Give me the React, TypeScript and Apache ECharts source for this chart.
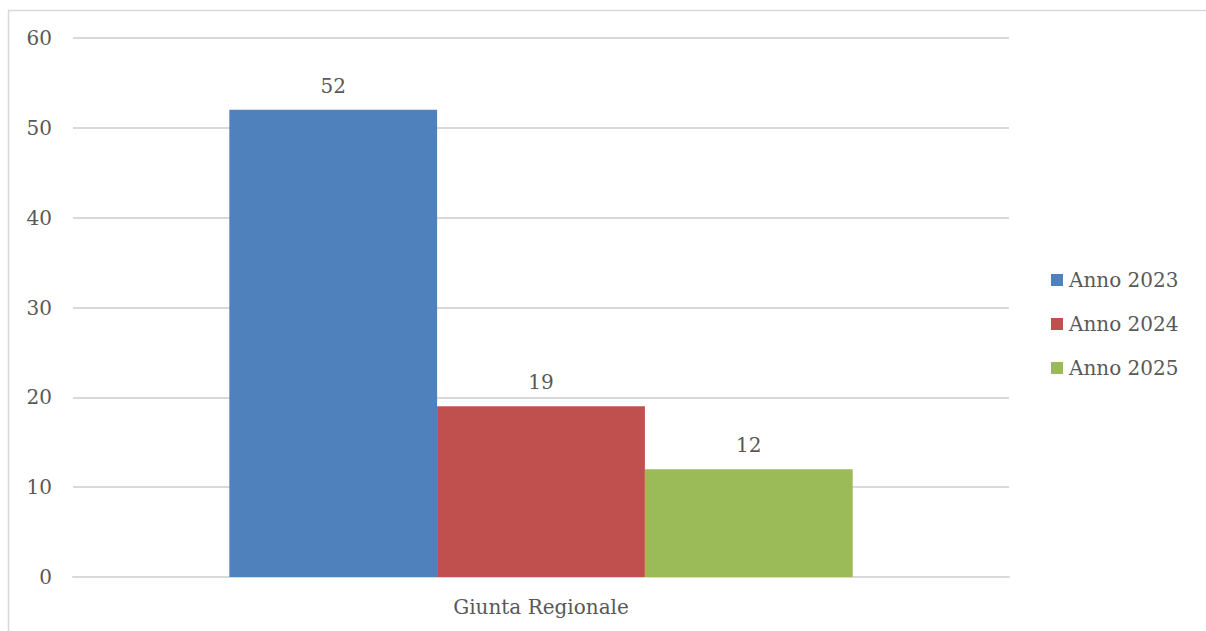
import React, { useEffect, useRef } from "react";
import * as echarts from "echarts";

const categories = ["Giunta Regionale"];
const seriesNames = ["Anno 2023", "Anno 2024", "Anno 2025"];
const values2023 = [52];
const values2024 = [19];
const values2025 = [12];
const colors = ["#4F81BD", "#C0504D", "#9BBB59"];

const FONT = "DejaVu Serif";
const TXT = "#595959";
const FS = 20;

export default function App() {
  const ref = useRef<HTMLDivElement>(null);
  useEffect(() => {
    document.body.style.margin = "0";
    if (!ref.current) return;
    const chart = echarts.init(ref.current, undefined, { renderer: "svg" });
    const data = [values2023, values2024, values2025];
    chart.setOption({
      animation: false,
      backgroundColor: "#ffffff",
      textStyle: { fontFamily: FONT, color: TXT },
      graphic: [
        {
          type: "rect",
          shape: { x: 8.5, y: 10.5, width: 1400, height: 800 },
          style: { fill: "none", stroke: "#d9d9d9", lineWidth: 1.5 },
          silent: true,
        },
      ],
      grid: { left: 73, right: 197, top: 38, bottom: 54, containLabel: false },
      legend: {
        orient: "vertical",
        left: 1051,
        top: 270,
        padding: 0,
        itemWidth: 12,
        itemHeight: 12,
        itemGap: 24,
        icon: "rect",
        data: seriesNames,
        textStyle: { fontFamily: FONT, fontSize: FS, color: TXT, lineHeight: 20, padding: [0, 0, 0, 1] },
      },
      xAxis: {
        type: "category",
        data: categories,
        axisLine: { show: true, lineStyle: { color: "#d9d9d9", width: 2 } },
        axisTick: { show: false },
        axisLabel: { fontFamily: FONT, fontSize: FS, color: TXT, margin: 20 },
      },
      yAxis: {
        type: "value",
        min: 0,
        max: 60,
        interval: 10,
        axisLine: { show: false },
        axisTick: { show: false },
        splitLine: { lineStyle: { color: "#d9d9d9", width: 2 } },
        axisLabel: { fontFamily: FONT, fontSize: FS, color: TXT, margin: 21 },
      },
      series: seriesNames.map((name, i) => ({
        name,
        type: "bar",
        data: data[i],
        barGap: "0%",
        barCategoryGap: "33.4%",
        itemStyle: { color: colors[i] },
        label: {
          show: true,
          position: "top",
          distance: 14,
          fontFamily: FONT,
          fontSize: FS,
          color: TXT,
        },
      })),
    });
    return () => chart.dispose();
  }, []);
  return <div ref={ref} style={{ width: 1206, height: 631 }} />;
}
